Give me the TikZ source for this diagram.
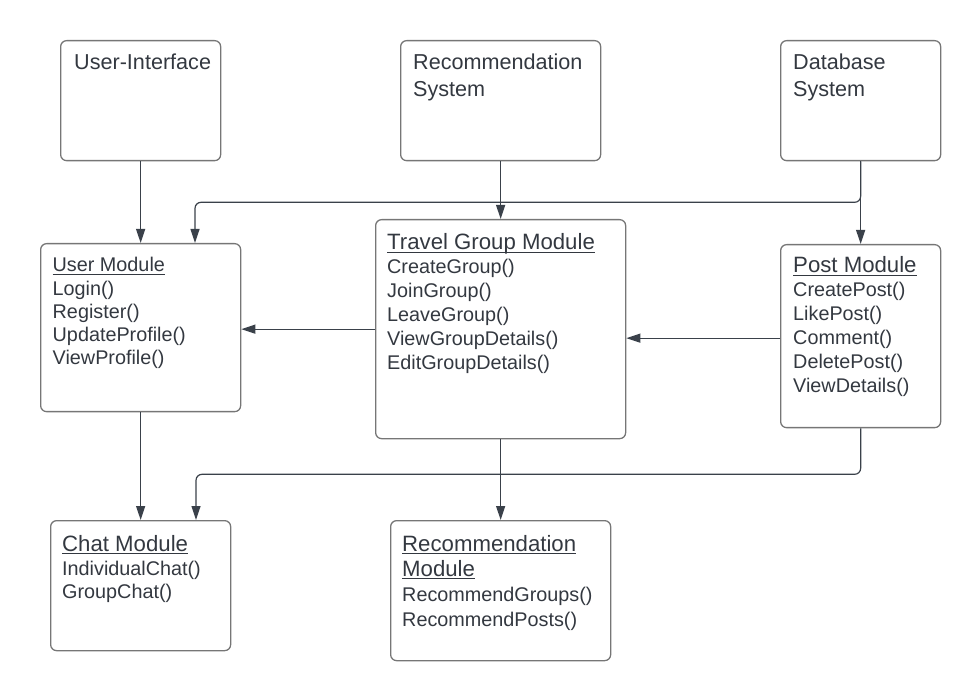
\documentclass[tikz,border=0pt]{standalone}
\usepackage{fontspec}
\setmainfont{Liberation Sans}
\usetikzlibrary{arrows.meta,calc}
\definecolor{boxgray}{HTML}{767676}
\definecolor{ink}{HTML}{3A414A}
\definecolor{txt}{HTML}{333840}
\tikzset{
  box/.style={draw=boxgray, line width=1.3pt, rounded corners=6pt, inner sep=0pt, anchor=north west},
  ttl/.style={anchor=base west, inner sep=0pt, text=txt, font=\fontsize{21.6}{26}\selectfont},
  hdr/.style={anchor=base west, inner sep=0pt, text=txt, font=\fontsize{22.2}{26}\selectfont},
  hdrs/.style={anchor=base west, inner sep=0pt, text=txt, font=\fontsize{19.8}{24}\selectfont},
  item/.style={anchor=base west, inner sep=0pt, text=txt, font=\fontsize{19.8}{24}\selectfont},
  ul/.style={draw=txt, line width=1.2pt},
  conn/.style={draw=ink, line width=1.2pt, -{Triangle[length=14pt,width=9pt]}},
}
\begin{document}
\begin{tikzpicture}[x=1pt,y=-1pt]
\useasboundingbox (0,0) rectangle (980,700);
% top boxes
\node[box, minimum width=160, minimum height=120] (ui) at (60,40) {};
\node[box, minimum width=200, minimum height=120] (rs) at (400,40) {};
\node[box, minimum width=160, minimum height=120] (db) at (780,40) {};
\node[ttl] (uit) at (74,70) {User-Interface};
\node[ttl] (rst1) at (413,70) {Recommendation};
\node[ttl] (rst2) at (413,97) {System};
\node[ttl] (dbt1) at (793,70) {Database};
\node[ttl] (dbt2) at (793,97) {System};
% middle boxes
\node[box, minimum width=200, minimum height=168] (um) at (40,243) {};
\node[box, minimum width=250, minimum height=219] (tg) at (375,219) {};
\node[box, minimum width=160, minimum height=183] (pm) at (780,244) {};
% bottom boxes
\node[box, minimum width=180, minimum height=130] (cm) at (50,520) {};
\node[box, minimum width=220, minimum height=140] (rm) at (390,520) {};
% User Module text
\node[hdrs] (umh) at (52.5,272) {User Module};
\draw[ul] ([yshift=-2.5pt]umh.base west) -- ([yshift=-2.5pt]umh.base east);
\foreach \t [count=\i] in {Login(),Register(),UpdateProfile(),ViewProfile()}
  \node[item] (umi\i) at (52.5,{296+22.8*(\i-1)}) {\t};
% Travel Group text
\node[hdr] (tgh) at (387,250) {Travel Group Module};
\draw[ul] ([yshift=-2.5pt]tgh.base west) -- ([yshift=-2.5pt]tgh.base east);
\foreach \t [count=\i] in {CreateGroup(),JoinGroup(),LeaveGroup(),ViewGroupDetails(),EditGroupDetails()}
  \node[item] (tgi\i) at (387,{274+23.8*(\i-1)}) {\t};
% Post Module text
\node[hdr] (pmh) at (793,273) {Post Module};
\draw[ul] ([yshift=-2.5pt]pmh.base west) -- ([yshift=-2.5pt]pmh.base east);
\foreach \t [count=\i] in {CreatePost(),LikePost(),Comment(),DeletePost(),ViewDetails()}
  \node[item] (pmi\i) at (793,{297+24*(\i-1)}) {\t};
% Chat Module text
\node[hdr] (cmh) at (62,551) {Chat Module};
\draw[ul] ([yshift=-2.5pt]cmh.base west) -- ([yshift=-2.5pt]cmh.base east);
\node[item] (cmi1) at (62,575) {IndividualChat()};
\node[item] (cmi2) at (62,598) {GroupChat()};
% Recommendation Module text
\node[hdr] (rmh1) at (402,551) {Recommendation};
\draw[ul] ([yshift=-2.5pt]rmh1.base west) -- ([yshift=-2.5pt]rmh1.base east);
\node[hdr] (rmh2) at (402,576) {Module};
\draw[ul] ([yshift=-2.5pt]rmh2.base west) -- ([yshift=-2.5pt]rmh2.base east);
\node[item] (rmi1) at (402,601) {RecommendGroups()};
\node[item] (rmi2) at (402,626) {RecommendPosts()};
% connector endpoints
\coordinate (umin) at (195,243);
\coordinate (cmin) at (196,520);
% connectors
\draw[conn] (ui.south) -- (um.north);
\draw[conn] (rs.south) -- (tg.north);
\draw[conn] (db.south) -- (pm.north);
\draw[conn, rounded corners=6pt] (db.south) -- ++(0,41) -| (umin);
\draw[conn] (tg.west) -- (tg.west -| um.east);
\draw[conn] ([yshift=-2pt]pm.west) -- ([yshift=-2pt]pm.west -| tg.east);
\draw[conn] (um.south) -- (cm.north);
\draw[conn] (tg.south) -- (rm.north);
\draw[conn, rounded corners=6pt] (pm.south) -- ++(0,46) -| (cmin);
\end{tikzpicture}
\end{document}
